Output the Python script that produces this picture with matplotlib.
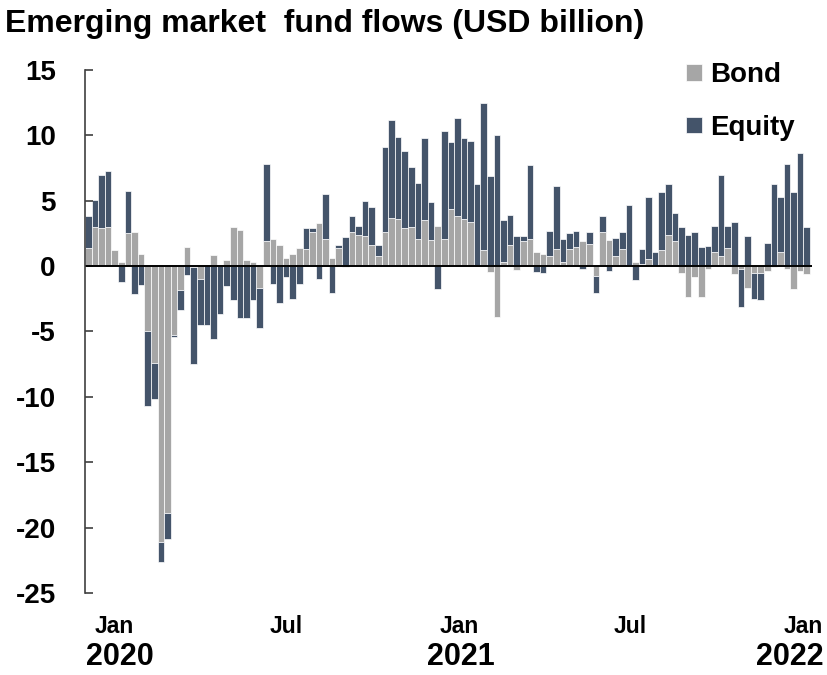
import matplotlib
matplotlib.use("Agg")
import matplotlib.pyplot as plt
import matplotlib.transforms as mtransforms
import numpy as np
import pandas as pd

plt.rcParams['font.family'] = ['Liberation Sans', 'DejaVu Sans']
plt.rcParams['font.weight'] = 'bold'
plt.rcParams['axes.unicode_minus'] = False

# weekly flows, USD billion
weeks = pd.date_range("2019-12-04", periods=110, freq="7D")

bond = [1.4, 3.0, 2.9, 3.0, 1.2, 0.35, 2.5, 2.6, 0.95, -4.95,
        -7.4, -21.1, -18.9, -5.3, -1.85, 1.5, -0.1, -0.95, 0.0, 0.85,
        0.1, 0.45, 3.0, 2.8, 0.45, 0.3, -1.65, 1.9, 2.1, 1.6,
        0.65, 0.95, 1.4, 1.3, 2.6, 3.3, 2.1, 0.65, 1.4, -0.1,
        2.6, 2.4, 2.3, 1.6, 0.75, 2.6, 3.7, 3.6, 2.9, 3.0,
        2.1, 3.5, 2.0, 3.1, 2.1, 4.4, 3.8, 3.6, 3.4, 0.1,
        1.2, -0.45, -3.9, 0.35, 1.6, -0.3, 1.9, 2.1, 1.1, 0.95,
        0.75, 1.3, 0.3, 1.3, 1.5, 1.9, 1.7, -0.75, 2.6, 2.0,
        0.75, 1.3, 0.05, 0.35, 0.2, 0.55, 0.0, 1.2, 2.4, 1.9,
        -0.5, -2.35, -0.8, -2.35, -0.2, 1.1, 0.75, 1.4, -0.6, -0.25,
        -1.7, -0.5, -0.5, -0.4, -0.1, 1.1, -0.2, -1.75, -0.4, -0.6]

equity = [2.45, 2.05, 4.1, 4.25, 0.0, -1.25, 3.25, -2.15, -1.45, -5.75,
          -2.8, -1.5, -2.0, -0.15, -1.5, -0.65, -7.4, -3.55, -4.5, -5.6,
          -3.7, -1.5, -2.6, -4.0, -4.0, -2.6, -3.05, 5.9, -1.35, -2.85,
          -0.8, -2.5, -1.35, 1.6, 0.3, -0.95, 3.4, -2.05, 0.2, 2.2,
          1.2, 0.7, 2.7, 2.9, 0.9, 6.5, 7.5, 6.3, 5.9, 4.55,
          4.25, 6.3, 2.9, -1.75, 8.2, 5.1, 7.5, 6.2, 6.2, 6.15,
          11.3, 6.9, 10.0, 3.15, 2.3, 2.3, 0.4, 5.65, -0.45, -0.5,
          1.95, 4.85, 1.8, 1.2, 1.2, -0.2, 0.9, -1.3, 1.2, -0.4,
          1.4, 1.3, 4.6, -1.05, 1.1, 4.75, 1.1, 4.5, 3.85, 2.2,
          3.0, 2.4, 2.6, 1.45, 1.55, 2.0, 6.2, 1.7, 3.4, -2.85,
          2.3, -2.0, -2.1, 1.75, 6.25, 4.2, 7.8, 5.7, 8.65, 3.0]

month_ticks = ["2020-01-01", "2020-07-01", "2021-01-01", "2021-07-01", "2022-01-01"]
month_labels = ["Jan", "Jul", "Jan", "Jul", "Jan"]
year_ticks = ["2020-01-06", "2021-01-03", "2021-12-18"]
year_labels = ["2020", "2021", "2022"]

bond = np.array(bond)
equity = np.array(equity)
# positive and negative parts stack separately, as in Excel
eq_bottom = np.where(np.sign(equity) == np.sign(bond), bond, 0)

fig = plt.figure(figsize=(8.27, 6.75), dpi=100)
ax = fig.add_axes([0.1028, 0.1215, 0.879, 0.7748])

ax.bar(weeks, bond, width=7, color="#a6a6a6", edgecolor="white", linewidth=0.5, label="Bond")
ax.bar(weeks, equity, bottom=eq_bottom, width=7, color="#44546a",
       edgecolor="white", linewidth=0.5, label="Equity")
ax.axhline(0, color="black", lw=1.4)

ax.set_ylim(-25, 15)
ax.set_yticks(range(-25, 16, 5))
ax.set_xlim(weeks[0] - pd.Timedelta(days=3.5), weeks[-1] + pd.Timedelta(days=5.5))
ax.set_xticks([])

for s in ["top", "right", "bottom"]:
    ax.spines[s].set_visible(False)
ax.spines["left"].set_color("#404040")
ax.spines["left"].set_linewidth(1.2)
ax.tick_params(axis="y", direction="in", length=6, width=1.2, color="#404040",
               labelsize=20, pad=21)

trans = mtransforms.blended_transform_factory(ax.transData, ax.transAxes)
for d, m in zip(month_ticks, month_labels):
    ax.text(pd.Timestamp(d), -0.065, m, transform=trans, ha="center", va="center",
            fontsize=16.5)
for d, y in zip(year_ticks, year_labels):
    ax.text(pd.Timestamp(d), -0.122, y, transform=trans, ha="center", va="center",
            fontsize=22)

fig.text(0.006, 0.965, "Emerging market  fund flows (USD billion)", fontsize=23,
         ha="left", va="center")

ax.legend(loc="upper left", bbox_to_anchor=(0.813, 0.928), bbox_transform=fig.transFigure,
          frameon=False, fontsize=20, handlelength=0.55, handleheight=0.55,
          handletextpad=0.32, labelspacing=0.95, borderpad=0)

fig.savefig("out.png", dpi=100)
